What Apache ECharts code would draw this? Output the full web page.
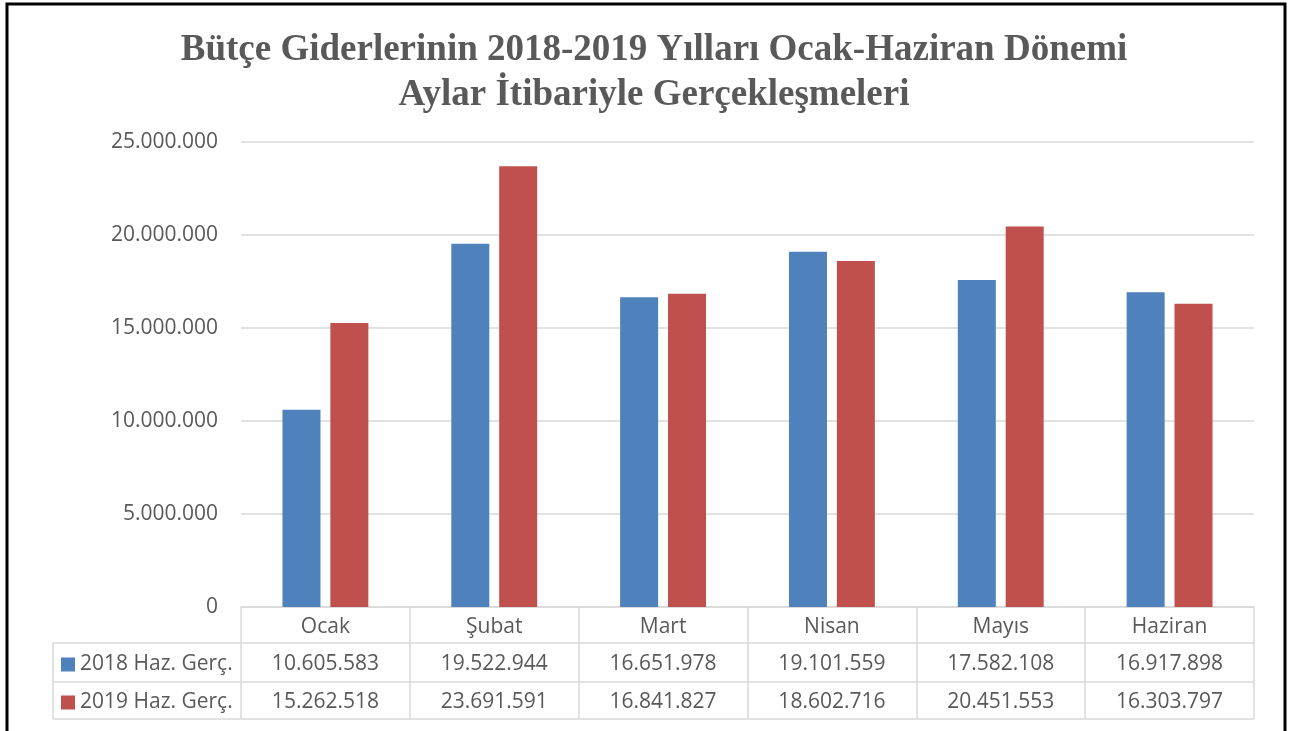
<!DOCTYPE html>
<html>
<head>
<meta charset="utf-8">
<script src="https://cdn.jsdelivr.net/npm/echarts@6/dist/echarts.min.js"></script>
<style>
    html, body { margin: 0; padding: 0; background: #fff; }
    #chart { width: 1304px; height: 731px; }
</style>
</head>
<body>
<div id="chart"></div>
<script>
// data
var months = ['Ocak', 'Şubat', 'Mart', 'Nisan', 'Mayıs', 'Haziran'];
var seriesNames = ['2018 Haz. Gerç.', '2019 Haz. Gerç.'];
var values2018 = [10605583, 19522944, 16651978, 19101559, 17582108, 16917898];
var values2019 = [15262518, 23691591, 16841827, 18602716, 20451553, 16303797];
var yTicks = [0, 5000000, 10000000, 15000000, 20000000, 25000000];

var titleLines = ['Bütçe Giderlerinin 2018-2019 Yılları Ocak-Haziran Dönemi', 'Aylar İtibariyle Gerçekleşmeleri'];

function fmt(n) {
    return String(n).replace(/\B(?=(\d{3})+(?!\d))/g, '.');
}

var textColor = '#595959';
var lineColor = '#d9d9d9';
var font = 'Open Sans';
var fontSize = 21;

// table geometry (data table under the plot, like excel)
var plotLeft = 241, plotRight = 1254, plotBottom = 607;
var tableLeft = 53;
var rowLines = [643, 682, 719];

var myChart = echarts.init(document.getElementById('chart'));

var tableLines = rowLines.map(function (y) {
    return {
        type: 'line',
        shape: { x1: tableLeft, y1: y, x2: plotRight, y2: y },
        style: { stroke: lineColor, lineWidth: 1.5 }
    };
});
tableLines.push({
    type: 'line',
    shape: { x1: tableLeft, y1: rowLines[0], x2: tableLeft, y2: rowLines[2] },
    style: { stroke: lineColor, lineWidth: 1.5 }
});
// outer frame
tableLines.push({
    type: 'rect',
    shape: { x: 7, y: 4, width: 1278, height: 800 },
    style: { fill: 'none', stroke: '#000', lineWidth: 3 }
});

function valueAxis(vals, offset) {
    return {
        type: 'category',
        data: months,
        position: 'bottom',
        offset: offset,
        axisLine: { show: false },
        axisTick: { show: false },
        axisLabel: {
            margin: 11,
            fontFamily: font,
            fontSize: fontSize,
            color: textColor,
            formatter: function (v, i) { return fmt(vals[i]); }
        }
    };
}

var option = {
    backgroundColor: '#fff',
    animation: false,
    color: ['#4F81BD', '#C0504D'],
    title: {
        text: titleLines.join('\n'),
        left: 649,
        top: 23,
        textAlign: 'center',
        textStyle: {
            fontFamily: 'Liberation Serif',
            fontWeight: 'bold',
            fontSize: 37,
            lineHeight: 45,
            color: textColor
        }
    },
    legend: [
        {
            data: [seriesNames[0]],
            left: 61, top: 654, padding: 0,
            icon: 'rect', itemWidth: 14, itemHeight: 14,
            textStyle: { fontFamily: font, fontSize: fontSize, color: textColor }
        },
        {
            data: [seriesNames[1]],
            left: 61, top: 692, padding: 0,
            icon: 'rect', itemWidth: 14, itemHeight: 14,
            textStyle: { fontFamily: font, fontSize: fontSize, color: textColor }
        }
    ],
    grid: {
        left: plotLeft,
        right: 1304 - plotRight,
        top: 142,
        bottom: 731 - plotBottom
    },
    xAxis: [
        {
            type: 'category',
            data: months,
            axisLine: { lineStyle: { color: lineColor, width: 1.5 } },
            axisTick: { show: true, length: rowLines[2] - plotBottom, lineStyle: { color: lineColor, width: 1.5 } },
            axisLabel: { margin: 10, fontFamily: font, fontSize: fontSize, color: textColor }
        },
        valueAxis(values2018, 36),
        valueAxis(values2019, 74)
    ],
    yAxis: {
        type: 'value',
        min: yTicks[0],
        max: yTicks[yTicks.length - 1],
        interval: yTicks[1] - yTicks[0],
        axisLine: { show: false },
        axisTick: { show: false },
        splitLine: { lineStyle: { color: lineColor, width: 1.5 } },
        axisLabel: {
            margin: 23,
            fontFamily: font,
            fontSize: fontSize,
            color: textColor,
            formatter: function (v) { return fmt(v); }
        }
    },
    series: [
        {
            name: seriesNames[0],
            type: 'bar',
            data: values2018,
            barWidth: 38,
            barGap: '26%'
        },
        {
            name: seriesNames[1],
            type: 'bar',
            data: values2019,
            barWidth: 38,
            barGap: '26%'
        }
    ],
    graphic: tableLines
};
myChart.setOption(option);
</script>
</body>
</html>
